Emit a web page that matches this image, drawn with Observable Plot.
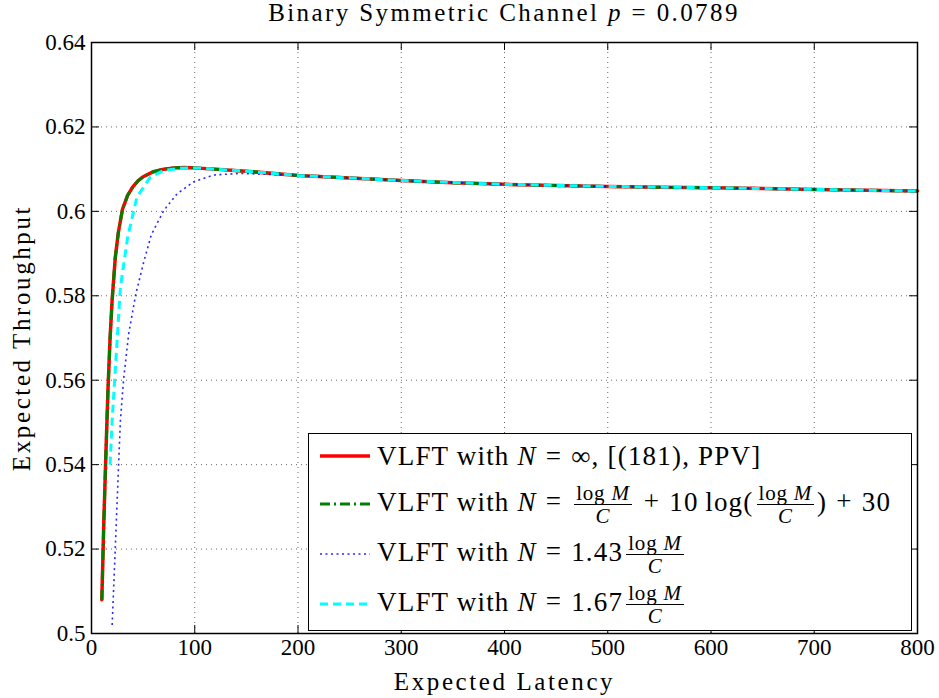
<!DOCTYPE html>
<html>
<head>
<meta charset="utf-8">
<script src="https://cdn.jsdelivr.net/npm/d3@7"></script>
<script src="https://cdn.jsdelivr.net/npm/@observablehq/plot@0.6"></script>
<style>
  html, body { margin: 0; padding: 0; background: #fff; }
  #wrap { position: relative; width: 939px; height: 698px; font-family: "Liberation Serif", "DejaVu Serif", serif; color: #000; }
  #title { position: absolute; left: 0; width: 1008px; top: 0; text-align: center; font-size: 25px; letter-spacing: 2.4px; line-height: 26px; }
  #legend { position: absolute; left: 308px; top: 433px; width: 602px; height: 196px; border: 1.5px solid #000; background: #fff; box-sizing: content-box; }
  .row { position: absolute; left: 10px; display: flex; align-items: center; font-size: 27px; letter-spacing: 1.2px; white-space: nowrap; }
  .row svg { margin-right: 6px; }
  .op { margin: 0 9px; }
  .frac { display: inline-flex; flex-direction: column; align-items: center; font-size: 21px; line-height: 20px; letter-spacing: 0.8px; vertical-align: middle; margin: 0 3px; }
  .frac .num { border-bottom: 1.5px solid #000; padding: 0 2px 1px; }
  .frac .den { padding-top: 1px; }
  i { font-style: italic; }
</style>
</head>
<body>
<div id="wrap">
  <div id="title">Binary Symmetric Channel <i>p</i> = 0.0789</div>
</div>
<script>
// ---- data ----
const latencyInf = [10, 12, 14, 16, 18, 20, 23, 26, 30, 35, 40, 45, 50, 60, 70, 80, 90, 100, 150, 200, 250, 300, 350, 400, 450, 500, 550, 600, 650, 700, 750, 800];
const throughputInf = [0.508, 0.527, 0.543, 0.558, 0.570, 0.579, 0.589, 0.595, 0.6005, 0.6038, 0.6058, 0.6072, 0.6082, 0.6094, 0.6100, 0.6103, 0.6104, 0.6103, 0.6095, 0.6085, 0.6079, 0.6073, 0.6068, 0.6064, 0.6061, 0.6059, 0.6057, 0.6056, 0.6054, 0.6052, 0.6050, 0.6048];

const latencyLog = [10, 12, 14, 16, 18, 20, 23, 26, 30, 35, 40, 45, 50, 60, 70, 80, 90, 100, 150, 200, 250, 300, 350, 400, 450, 500, 550, 600, 650, 700, 750, 800];
const throughputLog = [0.508, 0.527, 0.543, 0.558, 0.570, 0.579, 0.589, 0.595, 0.6005, 0.6038, 0.6058, 0.6072, 0.6082, 0.6094, 0.6100, 0.6103, 0.6104, 0.6103, 0.6095, 0.6085, 0.6079, 0.6073, 0.6068, 0.6064, 0.6061, 0.6059, 0.6057, 0.6056, 0.6054, 0.6052, 0.6050, 0.6048];

const latency143 = [20, 23, 26, 28, 31, 36, 43, 51, 58, 70, 83, 99, 118, 144, 200, 250, 300, 400, 500, 600, 700, 800];
const throughput143 = [0.502, 0.520, 0.5386, 0.5505, 0.560, 0.571, 0.5805, 0.5884, 0.5945, 0.6002, 0.6042, 0.6070, 0.6086, 0.6090, 0.6085, 0.6079, 0.6073, 0.6064, 0.6059, 0.6056, 0.6052, 0.6048];

const latency167 = [18, 20, 22, 25, 28, 35, 44, 57, 70, 86, 100, 150, 200, 250, 300, 400, 500, 600, 700, 800];
const throughput167 = [0.540, 0.5505, 0.5583, 0.5702, 0.582, 0.5939, 0.6034, 0.6081, 0.6097, 0.6102, 0.6103, 0.6095, 0.6085, 0.6079, 0.6073, 0.6064, 0.6059, 0.6056, 0.6052, 0.6048];

const xTicks = [0, 100, 200, 300, 400, 500, 600, 700, 800];
const yTicks = [0.5, 0.52, 0.54, 0.56, 0.58, 0.6, 0.62, 0.64];
const yTickLabels = ["0.5", "0.52", "0.54", "0.56", "0.58", "0.6", "0.62", "0.64"];

const seriesNames = ["inf", "log", "143", "167"];
const seriesColors = ["#ff0000", "#008000", "#0000ff", "#00ffff"];

const toRows = (xs, ys) => xs.map((x, i) => ({x, y: ys[i]}));

const W = 939, H = 698, mT = 42, mB = 65, mL = 91, mR = 22;
const plotH = H - mT - mB, plotW = W - mL - mR;
const font = "Liberation Serif, DejaVu Serif, serif";

const chart = Plot.plot({
  width: W, height: H,
  marginTop: mT, marginBottom: mB, marginLeft: mL, marginRight: mR,
  style: {fontFamily: font, background: "#fff", color: "#000"},
  x: {domain: [0, 800]},
  y: {domain: [0.5, 0.64]},
  marks: [
    Plot.gridX(xTicks.slice(1, -1), {stroke: "#000", strokeOpacity: 0.6, strokeDasharray: "1,4", strokeWidth: 1}),
    Plot.gridY(yTicks.slice(1, -1), {stroke: "#000", strokeOpacity: 0.6, strokeDasharray: "1,4", strokeWidth: 1}),
    // inward ticks
    Plot.tickX(xTicks, {x: d => d, insetTop: plotH - 8, stroke: "#000", strokeWidth: 1}),
    Plot.tickX(xTicks, {x: d => d, insetBottom: plotH - 8, stroke: "#000", strokeWidth: 1}),
    Plot.tickY(yTicks, {y: d => d, insetRight: plotW - 8, stroke: "#000", strokeWidth: 1}),
    Plot.tickY(yTicks, {y: d => d, insetLeft: plotW - 8, stroke: "#000", strokeWidth: 1}),
    Plot.axisX(xTicks, {tickSize: 0, tickPadding: 5, fontSize: 23, label: null}),
    Plot.axisY(yTicks, {tickSize: 0, tickPadding: 6, fontSize: 23, label: null, tickFormat: (d, i) => yTickLabels[i]}),
    // series
    Plot.line(toRows(latencyInf, throughputInf), {x: "x", y: "y", stroke: seriesColors[0], strokeWidth: 3.5}),
    Plot.line(toRows(latencyLog, throughputLog), {x: "x", y: "y", stroke: seriesColors[1], strokeWidth: 3, strokeDasharray: "10,4,2,4", strokeLinecap: "butt"}),
    Plot.line(toRows(latency143, throughput143), {x: "x", y: "y", stroke: seriesColors[2], strokeWidth: 1.6, strokeDasharray: "2,3.5", strokeLinecap: "butt", strokeOpacity: 0.85}),
    Plot.line(toRows(latency167, throughput167), {x: "x", y: "y", stroke: seriesColors[3], strokeWidth: 3, strokeDasharray: "8,5", strokeLinecap: "butt"}),
    Plot.frame({stroke: "#000", strokeWidth: 1.5}),
    Plot.text(["Expected Latency"], {frameAnchor: "bottom", dy: 48, fontSize: 25, textAnchor: "middle", lineAnchor: "middle"}),
    Plot.text(["Expected Throughput"], {frameAnchor: "left", dx: -70, rotate: -90, fontSize: 25, textAnchor: "middle", lineAnchor: "middle"})
  ]
});

const wrap = document.getElementById("wrap");
wrap.insertBefore(chart, wrap.firstChild);
// wider lettering for axis labels (Computer Modern is wider than Times)
d3.select(chart).selectAll("text").filter(function() { return /Expected/.test(this.textContent); }).style("letter-spacing", "2.6px");

// legend (HTML overlay, text with math)
const frac = `<span class="frac"><span class="num">log <i>M</i></span><span class="den"><i>C</i></span></span>`;
const eq = `<span class="op">=</span>`;
const plus = `<span class="op">+</span>`;
const legendTexts = [
  `VLFT with <i>N</i>${eq}∞, [(181), PPV]`,
  `VLFT with <i>N</i>${eq}${frac}${plus}10&thinsp;log(${frac})${plus}30`,
  `VLFT with <i>N</i>${eq}1.43${frac}`,
  `VLFT with <i>N</i>${eq}1.67${frac}`
];
const sampleStyles = [
  {w: 3.5, dash: null, op: 1},
  {w: 3, dash: "10,4,2,4", op: 1},
  {w: 1.6, dash: "2,3.5", op: 0.85},
  {w: 3, dash: "8,5", op: 1}
];
const rowCenters = [22, 70, 120, 170];
const legend = document.createElement("div");
legend.id = "legend";
seriesNames.forEach((name, i) => {
  const row = document.createElement("div");
  row.className = "row";
  const s = sampleStyles[i];
  row.innerHTML = `<svg width="52" height="10"><line x1="1" x2="51" y1="5" y2="5" stroke="${seriesColors[i]}" stroke-opacity="${s.op}" stroke-width="${s.w}" ${s.dash ? `stroke-dasharray="${s.dash}"` : ""}/></svg><span>${legendTexts[i]}</span>`;
  legend.appendChild(row);
});
wrap.appendChild(legend);
legend.querySelectorAll(".row").forEach((row, i) => {
  row.style.top = (rowCenters[i] - row.offsetHeight / 2) + "px";
});
</script>
</body>
</html>
